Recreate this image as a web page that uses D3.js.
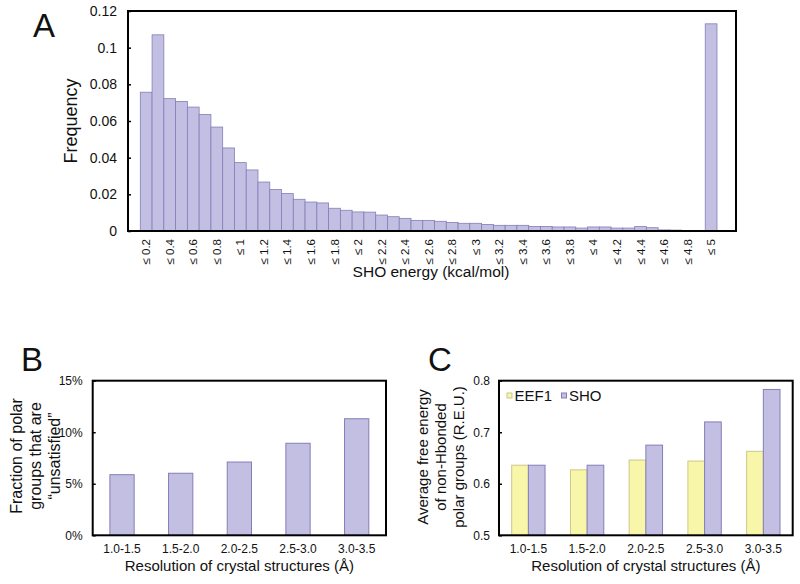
<!DOCTYPE html>
<html><head><meta charset="utf-8">
<script src="https://cdn.jsdelivr.net/npm/d3@7"></script>
<style>
body{margin:0;background:#fff;}
text{font-family:"Liberation Sans",Arial,Helvetica,sans-serif;fill:#111;}
</style></head>
<body><svg id="c" width="800" height="584"></svg>
<script>
// ---- Panel A data ----
const energyBins = ["≤ 0.2","≤ 0.3","≤ 0.4","≤ 0.5","≤ 0.6","≤ 0.7","≤ 0.8","≤ 0.9","≤ 1","≤ 1.1",
  "≤ 1.2","≤ 1.3","≤ 1.4","≤ 1.5","≤ 1.6","≤ 1.7","≤ 1.8","≤ 1.9","≤ 2","≤ 2.1",
  "≤ 2.2","≤ 2.3","≤ 2.4","≤ 2.5","≤ 2.6","≤ 2.7","≤ 2.8","≤ 2.9","≤ 3","≤ 3.1",
  "≤ 3.2","≤ 3.3","≤ 3.4","≤ 3.5","≤ 3.6","≤ 3.7","≤ 3.8","≤ 3.9","≤ 4","≤ 4.1",
  "≤ 4.2","≤ 4.3","≤ 4.4","≤ 4.5","≤ 4.6","≤ 4.7","≤ 4.8","≤ 4.9","≤ 5"];
const frequency = [0.0757,0.107,0.0722,0.0707,0.0676,0.0636,0.0567,0.0453,0.0373,0.0333,
  0.0267,0.0227,0.0204,0.0173,0.0158,0.0153,0.0124,0.0113,0.0104,0.0103,
  0.0087,0.0078,0.0069,0.0058,0.0058,0.0053,0.0047,0.0042,0.0042,0.0036,
  0.0031,0.0031,0.0031,0.0025,0.0025,0.0022,0.0022,0.0016,0.0022,0.0022,
  0.0016,0.0016,0.0024,0.0018,0.0006,0.0005,0,0,0.113];
const energyTickLabels = ["≤ 0.2","≤ 0.4","≤ 0.6","≤ 0.8","≤ 1","≤ 1.2","≤ 1.4","≤ 1.6","≤ 1.8","≤ 2",
  "≤ 2.2","≤ 2.4","≤ 2.6","≤ 2.8","≤ 3","≤ 3.2","≤ 3.4","≤ 3.6","≤ 3.8","≤ 4",
  "≤ 4.2","≤ 4.4","≤ 4.6","≤ 4.8","≤ 5"];
const freqTicks = [0,0.02,0.04,0.06,0.08,0.1,0.12];

// ---- Panel B / C data ----
const resolutions = ["1.0-1.5","1.5-2.0","2.0-2.5","2.5-3.0","3.0-3.5"];
const unsatisfiedFraction = [0.0588,0.0602,0.0711,0.0893,0.1131];
const fractionTicks = [0,0.05,0.10,0.15];
const seriesNames = ["EEF1","SHO"];
const eef1Energy = [0.636,0.627,0.646,0.644,0.663];
const shoEnergy  = [0.636,0.636,0.675,0.720,0.783];
const energyTicks = [0.5,0.6,0.7,0.8];

const PURPLE = "#c2bfe2", PURPLE_S = "#847eb8";
const YELLOW = "#f8f6a8", YELLOW_S = "#cdc886";
const svg = d3.select("#c");

function frame(x0,y0,x1,y1){
  svg.append("rect").attr("x",x0).attr("y",y0).attr("width",x1-x0).attr("height",y1-y0)
    .attr("fill","none").attr("stroke","#000").attr("stroke-width",2);
}
function styleAxis(g,size){
  g.select(".domain").remove();
  g.selectAll(".tick line").attr("stroke","#000").attr("stroke-width",1.5);
  g.selectAll("text").style("font-family","'Liberation Sans',Arial,sans-serif").style("font-size",size+"px").attr("fill","#111");
}

// ================= Panel A =================
{
  const L=128,R=736,T=11,B=231;
  const x = d3.scaleBand().domain(energyBins).range([140.3,717]).padding(0);
  const y = d3.scaleLinear().domain([0,0.12]).range([B,T]);
  svg.append("g").selectAll("rect").data(frequency).join("rect")
    .attr("x",(d,i)=>x(energyBins[i])).attr("width",x.bandwidth())
    .attr("y",d=>y(d)).attr("height",d=>B-y(d))
    .attr("fill",PURPLE).attr("stroke",PURPLE_S).attr("stroke-width",0.8);
  const ya = svg.append("g").attr("transform",`translate(${L},0)`)
    .call(d3.axisLeft(y).tickValues(freqTicks).tickSize(-3).tickPadding(11)
      .tickFormat(d=>d===0?"0":String(+d.toFixed(2))));
  styleAxis(ya,14);
  const xa = svg.append("g").attr("transform",`translate(0,${B})`)
    .call(d3.axisBottom(x).tickValues(energyTickLabels).tickSize(0));
  styleAxis(xa,11.5);
  xa.selectAll("text").attr("transform","rotate(-90)").attr("x",-8).attr("y",0)
    .attr("dy","0.35em").attr("text-anchor","end");
  frame(L,T,R,B);
  svg.append("text").attr("transform","translate(71,121) rotate(-90)").attr("dy","0.35em")
    .attr("text-anchor","middle").style("font-size","18px").text("Frequency");
  svg.append("text").attr("x",431).attr("y",277).attr("text-anchor","middle")
    .style("font-size","15.5px").text("SHO energy (kcal/mol)");
  svg.append("text").attr("x",33).attr("y",37).style("font-size","33px").text("A");
}

// ================= Panel B =================
{
  const L=92.7,R=386,T=380.7,B=535.3;
  const x = d3.scaleBand().domain(resolutions).range([L,R]).paddingInner(0.586).paddingOuter(0.293);
  const y = d3.scaleLinear().domain([0,0.15]).range([B,T]);
  svg.append("g").selectAll("rect").data(unsatisfiedFraction).join("rect")
    .attr("x",(d,i)=>x(resolutions[i])).attr("width",x.bandwidth())
    .attr("y",d=>y(d)).attr("height",d=>B-y(d))
    .attr("fill",PURPLE).attr("stroke",PURPLE_S).attr("stroke-width",1);
  const ya = svg.append("g").attr("transform",`translate(${L},0)`)
    .call(d3.axisLeft(y).tickValues(fractionTicks).tickSize(-3).tickPadding(10)
      .tickFormat(d=>Math.round(d*100)+"%"));
  styleAxis(ya,12);
  const xa = svg.append("g").attr("transform",`translate(0,${B})`)
    .call(d3.axisBottom(x).tickSize(0).tickPadding(9));
  styleAxis(xa,12);
  frame(L,T,R,B);
  svg.append("text").attr("x",(L+R)/2).attr("y",571).attr("text-anchor","middle")
    .style("font-size","15px").text("Resolution of crystal structures (Å)");
  const lines = ["Fraction of polar","groups that are","\u201Cunsatisfied\u201D"];
  lines.forEach((t,i)=>{
    svg.append("text").attr("transform",`translate(${16.5+i*19},456) rotate(-90)`).attr("dy","0.35em")
      .attr("text-anchor","middle").style("font-size","16px").text(t);
  });
  svg.append("text").attr("x",21).attr("y",371).style("font-size","33px").text("B");
}

// ================= Panel C =================
{
  const L=499,R=792.7,T=380.7,B=535.3;
  const x0 = d3.scaleBand().domain(resolutions).range([L,R]).paddingInner(0.432).paddingOuter(0.216);
  const x1 = d3.scaleBand().domain(seriesNames).range([0,x0.bandwidth()]).padding(0);
  const y = d3.scaleLinear().domain([0.5,0.8]).range([B,T]);
  const series = [{name:"EEF1",vals:eef1Energy,fill:YELLOW,stroke:YELLOW_S},
                  {name:"SHO",vals:shoEnergy,fill:PURPLE,stroke:PURPLE_S}];
  series.forEach(s=>{
    svg.append("g").selectAll("rect").data(s.vals).join("rect")
      .attr("x",(d,i)=>x0(resolutions[i])+x1(s.name)).attr("width",x1.bandwidth())
      .attr("y",d=>y(d)).attr("height",d=>B-y(d))
      .attr("fill",s.fill).attr("stroke",s.stroke).attr("stroke-width",1);
  });
  const ya = svg.append("g").attr("transform",`translate(${L},0)`)
    .call(d3.axisLeft(y).tickValues(energyTicks).tickSize(-3).tickPadding(9)
      .tickFormat(d3.format(".1f")));
  styleAxis(ya,12);
  const xa = svg.append("g").attr("transform",`translate(0,${B})`)
    .call(d3.axisBottom(x0).tickSize(0).tickPadding(9));
  styleAxis(xa,12);
  frame(L,T,R,B);
  // legend
  const lg = [{x:507,name:"EEF1",fill:YELLOW,stroke:YELLOW_S},{x:561.5,name:"SHO",fill:PURPLE,stroke:PURPLE_S}];
  lg.forEach(l=>{
    svg.append("rect").attr("x",l.x).attr("y",393).attr("width",5).attr("height",5)
      .attr("fill",l.fill).attr("stroke",l.stroke).attr("stroke-width",1);
    svg.append("text").attr("x",l.x+7.5).attr("y",401).style("font-size","15px").text(l.name);
  });
  svg.append("text").attr("x",(L+R)/2).attr("y",571).attr("text-anchor","middle")
    .style("font-size","15px").text("Resolution of crystal structures (Å)");
  const lines = ["Average free energy","of non-Hbonded","polar groups (R.E.U.)"];
  lines.forEach((t,i)=>{
    svg.append("text").attr("transform",`translate(${423+i*18},457) rotate(-90)`).attr("dy","0.35em")
      .attr("text-anchor","middle").style("font-size","15px").text(t);
  });
  svg.append("text").attr("x",428).attr("y",371).style("font-size","33px").text("C");
}
</script></body></html>
